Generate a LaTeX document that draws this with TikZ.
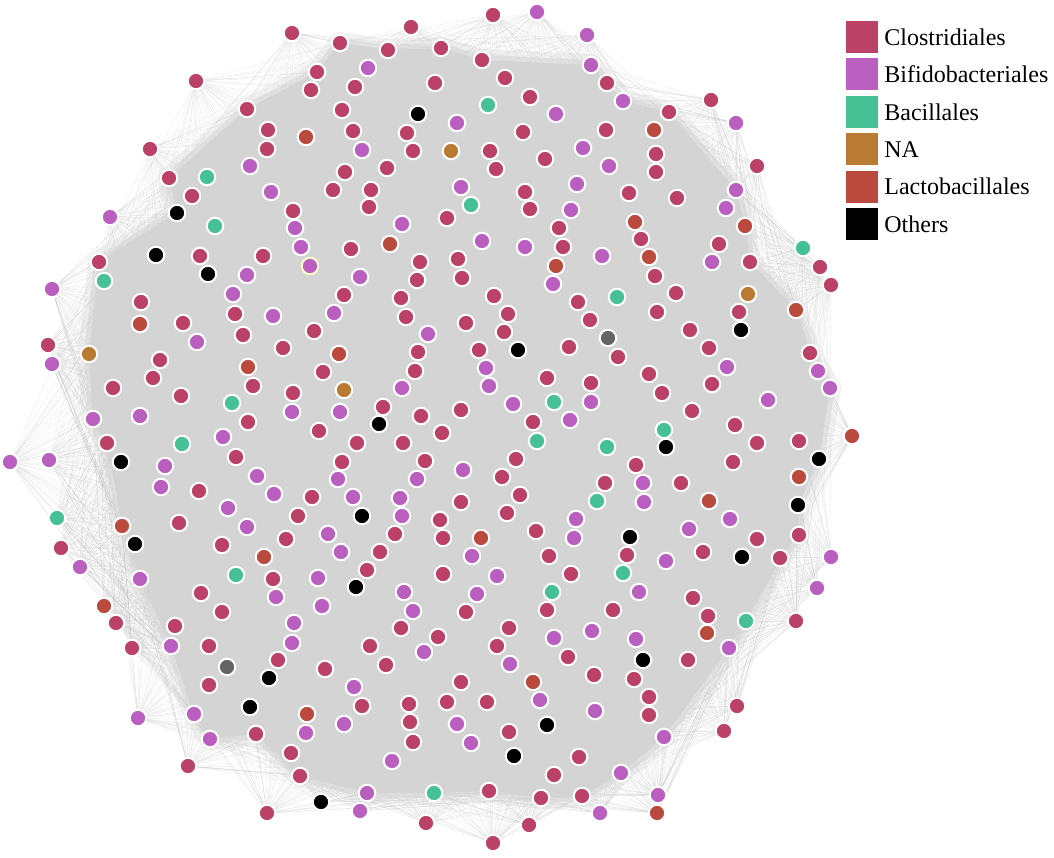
\documentclass[tikz,border=0pt]{standalone}
\usepackage{fontspec}
\setmainfont{Liberation Serif}
\usetikzlibrary{positioning,backgrounds}

\definecolor{closcol}{RGB}{187,66,102}
\definecolor{bificol}{RGB}{186,94,192}
\definecolor{bacicol}{RGB}{70,193,150}
\definecolor{unascol}{RGB}{186,122,52}
\definecolor{lactcol}{RGB}{187,74,62}
\definecolor{greycol}{RGB}{100,100,100}
\definecolor{netgray}{RGB}{212,212,212}

\tikzset{
  otu/.style={circle, draw=white, line width=2pt, minimum size=16.5pt, inner sep=0pt},
  clos/.style={otu, fill=closcol},
  bifi/.style={otu, fill=bificol},
  baci/.style={otu, fill=bacicol},
  unass/.style={otu, fill=unascol},
  lacto/.style={otu, fill=lactcol},
  other/.style={otu, fill=black},
  greynode/.style={otu, fill=greycol},
  fan/.style={draw=black!35, opacity=.2, line width=.45pt},
  legbox/.style={minimum size=32pt, inner sep=0pt},
  legtext/.style={inner sep=0pt, font=\fontsize{24}{28}\selectfont}
}

\begin{document}
\begin{tikzpicture}[x=1pt, y=-1pt]
  \useasboundingbox (0,0) rectangle (1054,858);
  % outer ring
  \foreach \x/\y/\s [count=\i] in {493/15/clos, 537/12/bifi, 587/35/bifi, 711/100/clos, 736/123/bifi,
      757/166/clos, 803/248/baci, 820/267/clos, 831/285/clos, 852/436/lacto, 831/557/bifi, 817/588/bifi,
      796/621/clos, 737/706/clos, 724/731/clos, 658/795/bifi, 657/813/lacto, 600/813/bifi, 529/825/clos,
      493/843/clos, 426/823/clos, 360/811/bifi, 321/802/other, 267/813/clos, 188/766/clos, 138/718/bifi,
      132/648/clos, 116/623/clos, 104/606/lacto, 80/567/bifi, 61/548/clos, 57/518/baci, 10/462/bifi,
      49/460/bifi, 52/364/bifi, 48/345/clos, 52/289/bifi, 110/217/bifi, 150/149/clos, 196/81/clos,
      292/33/clos, 411/27/clos}
    \node[\s] (o\i) at (\x,\y) {};
  % inner ring
  \foreach \x/\y/\s [count=\i] in {317/72/clos, 340/43/clos, 388/50/clos, 441/48/clos, 482/60/clos,
      591/65/bifi, 623/101/bifi, 669/112/clos, 736/190/bifi, 745/226/lacto, 750/262/clos, 796/310/lacto,
      810/353/clos, 830/388/bifi, 819/459/other, 798/505/other, 799/535/clos, 780/558/clos, 746/621/baci,
      729/648/bifi, 664/737/bifi, 621/773/bifi, 582/796/clos, 541/798/clos, 489/791/clos, 434/793/baci,
      367/793/bifi, 300/776/clos, 256/734/clos, 210/739/bifi, 194/714/bifi, 171/646/bifi, 140/579/bifi,
      122/526/lacto, 107/443/clos, 93/419/bifi, 89/354/unass, 99/262/clos, 177/213/other, 169/178/clos,
      247/109/clos}
    \node[\s] (r\i) at (\x,\y) {};
  % Clostridiales
  \foreach \x/\y [count=\i] in {311/90, 355/87, 435/83, 505/78, 530/97, 342/110, 353/131, 407/133,
      523/132, 413/151, 490/151, 545/159, 345/172, 387/168, 496/169, 333/190, 371/190, 525/192, 293/211,
      369/207, 530/209, 447/218, 268/130, 267/149, 192/196, 607/83, 606/130, 656/154, 656/172, 629/193,
      677/198, 200/256, 263/256, 141/302, 235/314, 183/323, 243/335, 283/348, 160/360, 153/378, 253/386,
      113/388, 181/396, 293/393, 248/422, 559/228, 563/247, 351/249, 420/262, 458/259, 417/280, 462/278,
      344/295, 401/298, 494/296, 406/317, 508/314, 466/323, 314/331, 504/332, 578/302, 418/352, 479/350,
      569/347, 323/372, 415/371, 547/378, 383/407, 421/416, 461/410, 533/422, 319/431, 442/433, 641/239,
      655/276, 719/244, 676/293, 657/312, 739/312, 590/320, 690/330, 618/357, 709/348, 649/374, 662/393,
      591/383, 712/384, 692/411, 735/425, 799/441, 236/457, 199/491, 179/523, 286/539, 222/545, 273/579,
      201/593, 222/612, 175/626, 209/646, 357/443, 403/443, 342/462, 425/461, 516/459, 502/477, 312/497,
      461/502, 520/495, 298/516, 440/520, 507/513, 536/531, 395/534, 443/538, 380/552, 549/556, 367/570,
      443/574, 571/574, 547/610, 466/612, 401/628, 509/628, 438/637, 370/646, 497/646, 757/443, 733/462,
      636/465, 605/483, 681/483, 757/539, 627/555, 703/552, 693/598, 613/610, 708/616, 278/660, 209/685,
      291/753, 325/669, 386/665, 568/657, 461/682, 362/706, 409/704, 447/702, 487/702, 410/722, 509/732,
      413/742, 554/775, 688/660, 594/675, 634/679, 649/697, 649/715, 579/757}
    \node[clos] (c\i) at (\x,\y) {};
  % Bifidobacteriales
  \foreach \x/\y [count=\i] in {368/68, 556/114, 457/123, 362/150, 461/187, 577/184, 571/210, 402/224,
      250/166, 271/192, 583/148, 609/166, 726/208, 247/275, 233/294, 273/316, 197/342, 140/416, 223/437,
      292/412, 295/228, 301/247, 482/241, 525/247, 360/277, 553/284, 334/313, 428/334, 486/368, 402/388,
      489/386, 340/412, 513/404, 570/420, 602/256, 712/262, 727/367, 818/371, 591/402, 768/400, 165/466,
      161/487, 257/476, 274/494, 228/508, 247/527, 276/597, 338/479, 417/479, 463/470, 353/497, 400/498,
      402/516, 328/534, 341/552, 472/556, 318/578, 497/576, 404/592, 477/594, 322/606, 413/611, 294/623,
      292/643, 554/638, 424/652, 576/519, 574/538, 643/483, 644/502, 730/519, 689/529, 666/561, 639/592,
      592/631, 636/639, 510/664, 354/687, 540/700, 306/733, 344/724, 457/724, 471/743, 392/761, 595/711}
    \node[bifi] (b\i) at (\x,\y) {};
  \node[bifi, draw={rgb,255:red,255;green,250;blue,200}] (bpale) at (310,266) {};
  % Bacillales
  \foreach \x/\y [count=\i] in {488/105, 207/177, 215/226, 471/205, 104/281, 617/297, 232/403, 554/402,
      182/444, 537/441, 664/430, 607/447, 597/501, 236/575, 552/592, 623/573}
    \node[baci] (g\i) at (\x,\y) {};
  % NA
  \foreach \x/\y [count=\i] in {451/151, 344/390, 748/294}
    \node[unass] (u\i) at (\x,\y) {};
  % Lactobacillales
  \foreach \x/\y [count=\i] in {306/137, 654/130, 635/222, 390/244, 556/266, 649/257, 140/324, 248/367,
      339/354, 799/477, 709/501, 264/557, 481/538, 707/633, 533/682, 307/714}
    \node[lacto] (l\i) at (\x,\y) {};
  % Others
  \foreach \x/\y [count=\i] in {418/114, 156/255, 208/274, 518/350, 741/330, 379/424, 121/462, 135/544,
      362/516, 356/587, 666/447, 630/537, 742/557, 643/660, 269/678, 250/707, 547/725, 514/756}
    \node[other] (k\i) at (\x,\y) {};
  \node[greynode] (y1) at (608,338) {};
  \node[greynode] (y2) at (227,667) {};
  % edges
  \begin{scope}[on background layer]
    \foreach \i in {1,...,42}
      \foreach \j in {1,...,41}
        \draw[fan] (o\i) -- (r\j);
    \draw[netgray, line width=22pt, line join=round, opacity=.3]
      (r1.center) \foreach \j in {2,...,41}{ -- (r\j.center)} -- cycle;
    \draw[netgray, line width=10pt, line join=round, opacity=.5]
      (r1.center) \foreach \j in {2,...,41}{ -- (r\j.center)} -- cycle;
    \fill[netgray] (r1.center) \foreach \j in {2,...,41}{ -- (r\j.center)} -- cycle;
  \end{scope}
  % legend
  \node[legbox, fill=closcol] (legC) at (862,37) {};
  \node[legbox, fill=bificol, below=5pt of legC] (legB) {};
  \node[legbox, fill=bacicol, below=5pt of legB] (legG) {};
  \node[legbox, fill=unascol, below=5pt of legG] (legN) {};
  \node[legbox, fill=lactcol, below=5pt of legN] (legL) {};
  \node[legbox, fill=black, below=5pt of legL] (legK) {};
  \node[legtext, right=6pt of legC] {Clostridiales};
  \node[legtext, right=6pt of legB] {Bifidobacteriales};
  \node[legtext, right=6pt of legG] {Bacillales};
  \node[legtext, right=6pt of legN] {NA};
  \node[legtext, right=6pt of legL] {Lactobacillales};
  \node[legtext, right=6pt of legK] {Others};
\end{tikzpicture}
\end{document}
